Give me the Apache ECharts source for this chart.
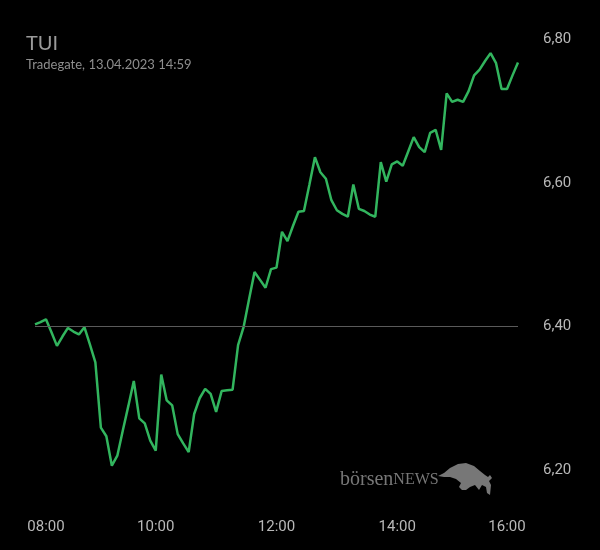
<!DOCTYPE html>
<html>
<head>
<meta charset="utf-8">
<script src="https://cdn.jsdelivr.net/npm/echarts@6/dist/echarts.min.js"></script>
<style>
html,body{margin:0;padding:0;background:#000;}
#chart{width:600px;height:550px;}
</style>
</head>
<body>
<div id="chart"></div>
<script>
// Time of each quote (category axis)
const times = [
  "07:48","07:54","08:00","08:06","08:12","08:18","08:24","08:30","08:36","08:42",
  "08:48","08:54","09:00","09:06","09:12","09:18","09:24","09:30","09:36","09:42",
  "09:48","09:54","10:00","10:05","10:11","10:16","10:22","10:27","10:33","10:38",
  "10:44","10:49","10:55","11:00","11:05","11:11","11:16","11:22","11:27","11:33",
  "11:38","11:44","11:49","11:55","12:00","12:05","12:11","12:16","12:22","12:27",
  "12:33","12:38","12:44","12:49","12:55","13:00","13:05","13:11","13:16","13:22",
  "13:27","13:33","13:38","13:44","13:49","13:55","14:00","14:06","14:12","14:18",
  "14:24","14:30","14:36","14:42","14:48","14:54","15:00","15:06","15:12","15:18",
  "15:24","15:30","15:36","15:42","15:48","15:54","16:00","16:06","16:12"
];
// Price (EUR)
const prices = [
  6.403,6.406,6.410,6.392,6.373,6.386,6.398,6.393,6.389,6.399,
  6.375,6.350,6.259,6.247,6.206,6.220,6.255,6.289,6.324,6.272,
  6.265,6.241,6.227,6.333,6.297,6.290,6.250,6.237,6.225,6.278,
  6.300,6.313,6.306,6.281,6.310,6.311,6.312,6.374,6.399,6.438,
  6.476,6.465,6.454,6.480,6.482,6.532,6.519,6.540,6.560,6.561,
  6.598,6.636,6.615,6.606,6.576,6.562,6.557,6.553,6.598,6.564,
  6.561,6.556,6.553,6.629,6.602,6.626,6.630,6.624,6.644,6.664,
  6.650,6.643,6.670,6.674,6.646,6.725,6.713,6.716,6.713,6.728,
  6.750,6.758,6.770,6.781,6.767,6.731,6.731,6.750,6.768
];
const xTickLabels = ["08:00","10:00","12:00","14:00","16:00"];
const previousClose = 6.40;
const yMin = 6.2, yMax = 6.8, yStep = 0.2;

// watermark bull silhouette (decoration only)
const bullShape = [[0,13],[6,10],[12,5],[20,1],[28,0],[36,3],[42,8],[47,12],[50,14],[52,12],[54,15],[51,18],[53,22],[52,32],[49,30],[48,24],[44,22],[41,27],[37,22],[32,24],[28,27],[24,27],[21,24],[23,20],[18,16],[12,14],[6,14]];

const chart = echarts.init(document.getElementById('chart'), null, {renderer:'canvas'});
chart.setOption({
  backgroundColor: '#000',
  animation: false,
  title: {
    text: 'TUI',
    subtext: 'Tradegate, 13.04.2023 14:59',
    left: 21, top: 29,
    itemGap: 4,
    textStyle: {color: '#9a9a9a', fontSize: 20, fontWeight: 'normal', fontFamily: 'Lato'},
    subtextStyle: {color: '#8e8e8e', fontSize: 13, fontFamily: 'Lato'}
  },
  grid: {left: 35, right: 82, top: 39.5, bottom: 80},
  xAxis: {
    type: 'category',
    data: times,
    boundaryGap: false,
    axisLine: {show: false},
    axisTick: {show: false},
    splitLine: {show: false},
    axisLabel: {
      interval: (idx, val) => xTickLabels.includes(val),
      color: '#b8b8b8', fontSize: 15, fontFamily: 'Roboto', margin: 50
    }
  },
  yAxis: {
    type: 'value',
    position: 'right',
    min: yMin, max: yMax, interval: yStep,
    axisLine: {show: false},
    axisTick: {show: false},
    splitLine: {show: false},
    axisLabel: {
      color: '#b8b8b8', fontSize: 15, fontFamily: 'Roboto', margin: 25,
      formatter: v => v.toFixed(2).replace('.', ',')
    }
  },
  graphic: [
    {
      type: 'text', x: 340, y: 470,
      style: {
        text: '{a|börsen}{b|NEWS}',
        rich: {
          a: {fontFamily: 'Liberation Serif', fontSize: 20, fill: '#777', color: '#777'},
          b: {fontFamily: 'Liberation Serif', fontSize: 16, fill: '#777', color: '#777'}
        }
      }
    },
    {
      type: 'polygon', x: 438, y: 463,
      shape: {points: bullShape},
      style: {fill: '#777'}
    }
  ],
  series: [{
    type: 'line',
    data: prices,
    showSymbol: false,
    smooth: false,
    lineStyle: {color: '#32b55e', width: 2.5},
    markLine: {
      silent: true,
      symbol: 'none',
      label: {show: false},
      lineStyle: {color: '#5a5a5a', type: 'solid', width: 1},
      data: [{yAxis: previousClose}]
    }
  }]
});
</script>
</body>
</html>
